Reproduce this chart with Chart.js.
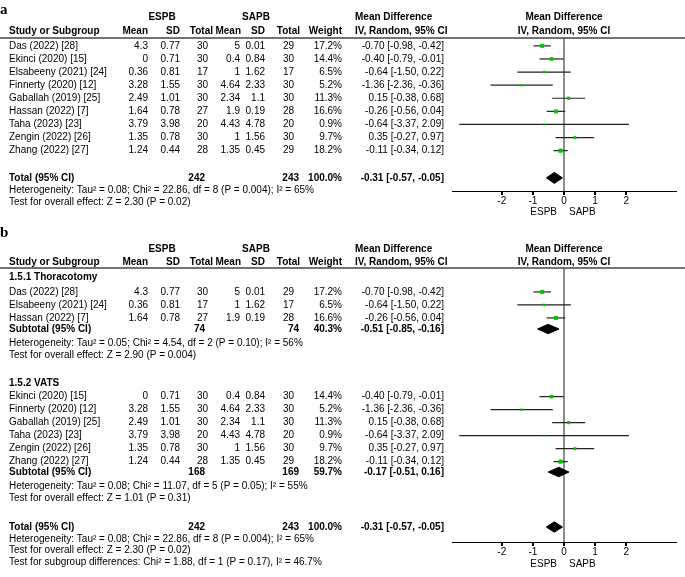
<!DOCTYPE html>
<html>
<head>
<meta charset="utf-8">
<script src="https://cdn.jsdelivr.net/npm/chart.js@4.4.0/dist/chart.umd.min.js"></script>
<style>
body { margin: 0; background: #fff; }
canvas { position: absolute; left: 0; }
#panelA { top: 0; }
#panelB { top: 222px; }
</style>
</head>
<body>
<canvas id="panelA" width="685" height="222"></canvas>
<canvas id="panelB" width="685" height="355"></canvas>
<script>
// study data
var studies = ['Das (2022) [28]', 'Ekinci (2020) [15]', 'Elsabeeny (2021) [24]', 'Finnerty (2020) [12]',
    'Gaballah (2019) [25]', 'Hassan (2022) [7]', 'Taha (2023) [23]', 'Zengin (2022) [26]', 'Zhang (2022) [27]'];
var espbMean = [4.3, 0, 0.36, 3.28, 2.49, 1.64, 3.79, 1.35, 1.24];
var espbSD = [0.77, 0.71, 0.81, 1.55, 1.01, 0.78, 3.98, 0.78, 0.44];
var espbN = [30, 30, 17, 30, 30, 27, 20, 30, 28];
var sapbMean = [5, 0.4, 1, 4.64, 2.34, 1.9, 4.43, 1, 1.35];
var sapbSD = [0.01, 0.84, 1.62, 2.33, 1.1, 0.19, 4.78, 1.56, 0.45];
var sapbN = [29, 30, 17, 30, 30, 28, 20, 30, 29];
var weight = [17.2, 14.4, 6.5, 5.2, 11.3, 16.6, 0.9, 9.7, 18.2];
var md = [-0.70, -0.40, -0.64, -1.36, 0.15, -0.26, -0.64, 0.35, -0.11];
var ciLow = [-0.98, -0.79, -1.50, -2.36, -0.38, -0.56, -3.37, -0.27, -0.34];
var ciHigh = [-0.42, -0.01, 0.22, -0.36, 0.68, 0.04, 2.09, 0.97, 0.12];

// pooled results
var totalMD = -0.31, totalLow = -0.57, totalHigh = -0.05;
var totalN1 = 242, totalN2 = 243;
var totalHet = 'Heterogeneity: Tau\u00b2 = 0.08; Chi\u00b2 = 22.86, df = 8 (P = 0.004); I\u00b2 = 65%';
var totalZ = 'Test for overall effect: Z = 2.30 (P = 0.02)';
var subgroupTest = 'Test for subgroup differences: Chi\u00b2 = 1.88, df = 1 (P = 0.17), I\u00b2 = 46.7%';

// subgroups (panel b)
var groupNames = ['1.5.1 Thoracotomy', '1.5.2 VATS'];
var groupMembers = [[0, 2, 5], [1, 3, 4, 6, 7, 8]];
var groupMD = [-0.51, -0.17];
var groupLow = [-0.85, -0.51];
var groupHigh = [-0.16, 0.16];
var groupN1 = [74, 168];
var groupN2 = [74, 169];
var groupWeight = [40.3, 59.7];
var groupHet = ['Heterogeneity: Tau\u00b2 = 0.05; Chi\u00b2 = 4.54, df = 2 (P = 0.10); I\u00b2 = 56%',
    'Heterogeneity: Tau\u00b2 = 0.08; Chi\u00b2 = 11.07, df = 5 (P = 0.05); I\u00b2 = 55%'];
var groupZ = ['Test for overall effect: Z = 2.90 (P = 0.004)', 'Test for overall effect: Z = 1.01 (P = 0.31)'];

var xTicks = [-2, -1, 0, 1, 2];

// row layout (in row units)
var rowsA = { letter: -2.44, group: -2.21, head: -1.1, studies: [0, 1, 2, 3, 4, 5, 6, 7, 8],
    total: 10.08, het: 11.0, z: 11.91, foot: 12.67 };
var rowsB = { letter: -3.08, group: -2.15, head: -1.1,
    groupHead: [0, 8.15],
    studies: [[1.15, 2.15, 3.15], [9.2, 10.2, 11.2, 12.2, 13.2, 14.2]],
    sub: [4.0, 15.0], het: [5.08, 16.08], z: [6.0, 17.0],
    total: 19.23, totHet: 20.15, totZ: 21.0, subTest: 21.92, foot: 22.08 };

var FONT = '"Liberation Sans", Arial, sans-serif';
var col = { study: 9, m1: 148, sd1: 180, n1: 208, n1h: 213, m2: 240, sd2: 265, n2: 294, n2h: 300, w: 342, ci: 444, mdh: 355 };

function fmtCI(m, lo, hi) {
    return m.toFixed(2) + ' [' + lo.toFixed(2) + ', ' + hi.toFixed(2) + ']';
}

function txt(ctx, s, x, y, align, bold) {
    ctx.font = (bold ? 'bold ' : '') + '10px ' + FONT;
    ctx.textAlign = align;
    ctx.textBaseline = 'middle';
    ctx.fillStyle = '#000';
    ctx.fillText(s, x, y);
}

function drawHeader(chart, rows, letter) {
    var ctx = chart.ctx, ys = chart.scales.y, x0 = chart.scales.x.getPixelForValue(0);
    ctx.save();
    ctx.font = 'bold 15px "Liberation Serif", "Times New Roman", serif';
    ctx.textAlign = 'left';
    ctx.textBaseline = 'alphabetic';
    ctx.fillStyle = '#000';
    ctx.fillText(letter, 0, ys.getPixelForValue(rows.letter));

    var g = ys.getPixelForValue(rows.group), h = ys.getPixelForValue(rows.head);
    txt(ctx, 'ESPB', 162, g, 'center', true);
    txt(ctx, 'SAPB', 256, g, 'center', true);
    txt(ctx, 'Mean Difference', col.mdh, g, 'left', true);
    txt(ctx, 'Mean Difference', x0, g, 'center', true);
    txt(ctx, 'Study or Subgroup', col.study, h, 'left', true);
    txt(ctx, 'Mean', col.m1, h, 'right', true);
    txt(ctx, 'SD', col.sd1, h, 'right', true);
    txt(ctx, 'Total', col.n1h, h, 'right', true);
    txt(ctx, 'Mean', 241, h, 'right', true);
    txt(ctx, 'SD', col.sd2, h, 'right', true);
    txt(ctx, 'Total', col.n2h, h, 'right', true);
    txt(ctx, 'Weight', col.w, h, 'right', true);
    txt(ctx, 'IV, Random, 95% CI', col.mdh, h, 'left', true);
    txt(ctx, 'IV, Random, 95% CI', x0, h, 'center', true);

    // rule under the header
    ctx.strokeStyle = '#444';
    ctx.lineWidth = 1.5;
    ctx.beginPath();
    ctx.moveTo(0, chart.chartArea.top);
    ctx.lineTo(685, chart.chartArea.top);
    ctx.stroke();

    var f = ys.getPixelForValue(rows.foot);
    txt(ctx, 'ESPB', x0 - 7, f, 'right', false);
    txt(ctx, 'SAPB', x0 + 5, f, 'left', false);
    ctx.restore();
}

function drawStudy(ctx, i, y) {
    txt(ctx, studies[i], col.study, y, 'left', false);
    txt(ctx, String(espbMean[i]), col.m1, y, 'right', false);
    txt(ctx, String(espbSD[i]), col.sd1, y, 'right', false);
    txt(ctx, String(espbN[i]), col.n1, y, 'right', false);
    txt(ctx, String(sapbMean[i]), col.m2, y, 'right', false);
    txt(ctx, String(sapbSD[i]), col.sd2, y, 'right', false);
    txt(ctx, String(sapbN[i]), col.n2, y, 'right', false);
    txt(ctx, weight[i].toFixed(1) + '%', col.w, y, 'right', false);
    txt(ctx, fmtCI(md[i], ciLow[i], ciHigh[i]), col.ci, y, 'right', false);
}

function drawPooled(ctx, label, n1, n2, w, m, lo, hi, y) {
    txt(ctx, label, col.study, y, 'left', true);
    txt(ctx, String(n1), 205, y, 'right', true);
    txt(ctx, String(n2), 299, y, 'right', true);
    txt(ctx, w.toFixed(1) + '%', col.w, y, 'right', true);
    txt(ctx, fmtCI(m, lo, hi), col.ci, y, 'right', true);
}

function ciLine(i, r) {
    return { type: 'line', data: [{ x: ciLow[i], y: r }, { x: ciHigh[i], y: r }],
        borderColor: '#222', borderWidth: 1.2, pointRadius: 0, order: 2 };
}

function squares(idx, rows) {
    return { type: 'scatter', data: idx.map(function (i, k) { return { x: md[i], y: rows[k] }; }),
        pointStyle: 'rect', backgroundColor: '#00c400', borderWidth: 0, order: 0,
        pointRadius: idx.map(function (i) { return (1.6 + weight[i] * 0.14) / Math.SQRT2; }) };
}

function diamond(m, lo, hi, r, h) {
    return { type: 'line', data: [{ x: lo, y: r }, { x: m, y: r - h }, { x: hi, y: r }, { x: m, y: r + h }, { x: lo, y: r }],
        fill: 'shape', backgroundColor: '#000', borderColor: '#000', borderWidth: 1, pointRadius: 0, tension: 0, order: 1 };
}

function forest(id, datasets, yMin, yMax, padTop, padBottom, drawText) {
    return new Chart(document.getElementById(id), {
        type: 'scatter',
        data: { datasets: datasets },
        options: {
            responsive: false,
            animation: false,
            devicePixelRatio: 1,
            layout: { autoPadding: false, padding: { left: 452, right: 9, top: padTop, bottom: padBottom } },
            plugins: { legend: { display: false }, tooltip: { enabled: false } },
            scales: {
                x: {
                    type: 'linear', min: -3.6, max: 3.6,
                    afterBuildTicks: function (s) { s.ticks = xTicks.map(function (v) { return { value: v }; }); },
                    afterFit: function (s) { s.height = 20; },
                    grid: {
                        color: function (c) { return c.tick && c.tick.value === 0 ? '#8c8c8c' : 'rgba(0,0,0,0)'; },
                        lineWidth: 2, tickColor: '#000', tickLength: 4
                    },
                    border: { display: true, color: '#000', width: 1 },
                    ticks: { color: '#000', padding: 0, font: { family: FONT, size: 10 } }
                },
                y: { type: 'linear', reverse: true, min: yMin, max: yMax, display: false }
            }
        },
        plugins: [{ id: 'table', afterDraw: drawText }]
    });
}

// panel a
var allIdx = studies.map(function (s, i) { return i; });
var dsA = allIdx.map(function (i) { return ciLine(i, rowsA.studies[i]); });
dsA.push(squares(allIdx, rowsA.studies));
dsA.push(diamond(totalMD, totalLow, totalHigh, rowsA.total, 0.42));

forest('panelA', dsA, -0.6, 11.08, 38, 11, function (chart) {
    var ctx = chart.ctx, ys = chart.scales.y;
    drawHeader(chart, rowsA, 'a');
    allIdx.forEach(function (i) { drawStudy(ctx, i, ys.getPixelForValue(rowsA.studies[i])); });
    drawPooled(ctx, 'Total (95% CI)', totalN1, totalN2, 100, totalMD, totalLow, totalHigh, ys.getPixelForValue(rowsA.total));
    txt(ctx, totalHet, col.study, ys.getPixelForValue(rowsA.het), 'left', false);
    txt(ctx, totalZ, col.study, ys.getPixelForValue(rowsA.z), 'left', false);
});

// panel b
var dsB = [];
groupMembers.forEach(function (idx, g) {
    idx.forEach(function (i, k) { dsB.push(ciLine(i, rowsB.studies[g][k])); });
    dsB.push(squares(idx, rowsB.studies[g]));
    dsB.push(diamond(groupMD[g], groupLow[g], groupHigh[g], rowsB.sub[g], 0.36));
});
dsB.push(diamond(totalMD, totalLow, totalHigh, rowsB.total, 0.4));

forest('panelB', dsB, -0.69, 20.38, 46, 15, function (chart) {
    var ctx = chart.ctx, ys = chart.scales.y;
    drawHeader(chart, rowsB, 'b');
    groupMembers.forEach(function (idx, g) {
        txt(ctx, groupNames[g], col.study, ys.getPixelForValue(rowsB.groupHead[g]), 'left', true);
        idx.forEach(function (i, k) { drawStudy(ctx, i, ys.getPixelForValue(rowsB.studies[g][k])); });
        drawPooled(ctx, 'Subtotal (95% CI)', groupN1[g], groupN2[g], groupWeight[g], groupMD[g], groupLow[g], groupHigh[g],
            ys.getPixelForValue(rowsB.sub[g]));
        txt(ctx, groupHet[g], col.study, ys.getPixelForValue(rowsB.het[g]), 'left', false);
        txt(ctx, groupZ[g], col.study, ys.getPixelForValue(rowsB.z[g]), 'left', false);
    });
    drawPooled(ctx, 'Total (95% CI)', totalN1, totalN2, 100, totalMD, totalLow, totalHigh, ys.getPixelForValue(rowsB.total));
    txt(ctx, totalHet, col.study, ys.getPixelForValue(rowsB.totHet), 'left', false);
    txt(ctx, totalZ, col.study, ys.getPixelForValue(rowsB.totZ), 'left', false);
    txt(ctx, subgroupTest, col.study, ys.getPixelForValue(rowsB.subTest), 'left', false);
});
</script>
</body>
</html>
